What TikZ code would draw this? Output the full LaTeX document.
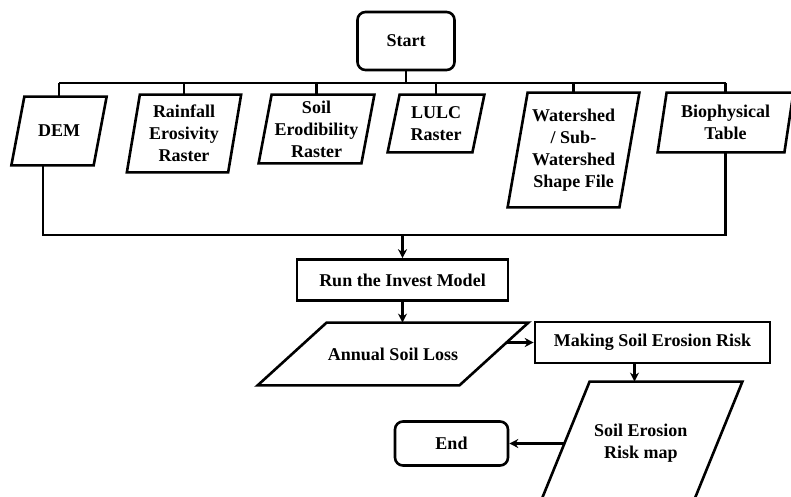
\documentclass[tikz,border=0pt]{standalone}
\usepackage{fontspec}
\setmainfont{Liberation Serif}
\usetikzlibrary{arrows.meta,calc}

\begin{document}
\begin{tikzpicture}[x=0.5pt,y=-0.5pt,
  base/.style={align=center,inner sep=1pt,font=\fontsize{9}{11}\selectfont\bfseries},
  term/.style={base,draw,line width=1.3pt,rounded corners=4pt,minimum width=#1},
  proc/.style={base,draw,line width=1.3pt,minimum width=#1,minimum height=20.5pt},
  io/.style 2 args={base,minimum width=#1,minimum height=#2},
  ln/.style={line width=1.3pt},
  arr/.style={ln,-{Stealth[length=4.5pt,width=4.5pt]}}]
  \useasboundingbox (0,0) rectangle (791,497);
  \node[term=48.5pt,minimum height=29pt] (start) at (406,41) {Start};
  \node[io={40.75pt}{34pt}] (dem) at (59,131) {DEM};
  \node[io={50.25pt}{38.5pt}] (rain) at (184,133.5) {Rainfall\\Erosivity\\Raster};
  \node[io={51pt}{34pt}] (soil) at (316.5,129) {Soil\\Erodibility\\Raster};
  \node[io={42pt}{28.5pt}] (lulc) at (436,123.5) {LULC\\Raster};
  \node[io={55.5pt}{57pt}] (shed) at (573.5,150) {Watershed\\/ Sub-\\Watershed\\Shape File};
  \node[io={63pt}{29.5pt}] (bio) at (725.5,122.5) {Biophysical\\Table};
  \node[proc=105.5pt] (run) at (402.5,280) {Run the Invest Model};
  \node[io={100.5pt}{31pt}] (ann) at (393,354) {Annual Soil Loss};
  \node[proc=117.5pt] (mk) at (652.5,342.5) {Making Soil Erosion Risk};
  \node[io={76pt}{61.5pt}] (risk) at (640.8,443.5) {Soil Erosion\\Risk map};
  \node[term=56.5pt,minimum height=22pt] (end) at (451.5,443.5) {End};
  \foreach \n/\s in {dem/6.5,rain/6.5,soil/6.5,lulc/6,shed/10,bio/4.5,ann/34.5,risk/25.2}
    \draw[ln] ($(\n.south west)+(-\s,0)$) -- ($(\n.south east)+(-\s,0)$)
      -- ($(\n.north east)+(\s,0)$) -- ($(\n.north west)+(\s,0)$) -- cycle;
  \coordinate (bar) at (0,83);
  \coordinate (col) at (0,235);
  \draw[ln] (start.south) -- (start.south |- bar);
  \draw[ln] (dem.north |- bar) -- (bio.north |- bar);
  \foreach \n in {dem,rain,soil,lulc,shed,bio}
    \draw[ln] (\n.north |- bar) -- (\n.north);
  \draw[ln] ($(dem.south)+(-16,0)$) |- (bio.south |- col) -- (bio.south);
  \draw[arr] (run.north |- col) -- (run.north);
  \draw[arr] (run.south) -- (run.south |- ann.north);
  \draw[arr] ($(ann.east |- mk.west)+(13,0)$) -- (mk.west);
  \draw[arr] ($(mk.south)+(-18,0)$) -- ($(mk.south |- risk.north)+(-18,0)$);
  \draw[arr] (risk.west) -- (end.east);
\end{tikzpicture}
\end{document}
